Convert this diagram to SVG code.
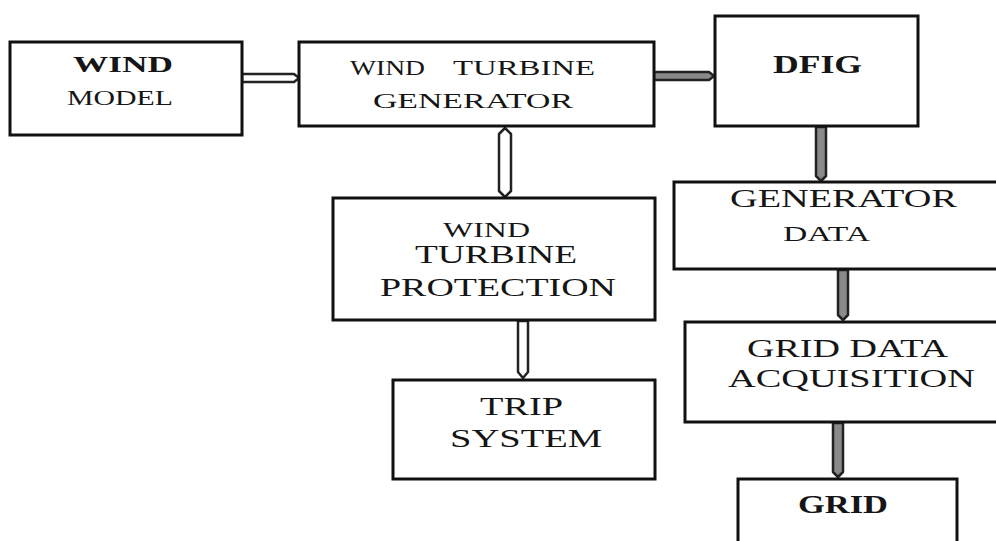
<svg xmlns="http://www.w3.org/2000/svg" width="996" height="541" viewBox="0 0 996 541">
<style>
.box{fill:#fff;stroke:#111;stroke-width:3}
.t{font-family:"Liberation Serif","Times New Roman",serif;fill:#151515;text-anchor:start}
.b{font-weight:bold}
.arr{stroke:#222;stroke-width:2.5;stroke-linejoin:round}
.hol{fill:#fff}
.sh{fill:#8a8a8a}
</style>
<rect width="996" height="541" fill="#fff"/>
<g id="connectors">
<polygon class="arr hol" points="242,74 294,74 299,78 294,82 242,82"/>
<polygon class="arr sh" points="654,72 709,72 714,76 709,80 654,80"/>
<polygon class="arr hol" points="505,128 511,134 511,191 505,197 499,191 499,134"/>
<polygon class="arr hol" points="518,321 528,321 528,372 523,378 518,372"/>
<polygon class="arr sh" points="816,127 826,127 826,176 821,181 816,176"/>
<polygon class="arr sh" points="838,270 848,270 848,315 843,320 838,315"/>
<polygon class="arr sh" points="833,423 843,423 843,472 838,477 833,472"/>
</g>
<g id="wind-model">
<rect class="box" x="10" y="42" width="232" height="93"/>
<text class="t b" x="73" y="72" font-size="23" textLength="100" lengthAdjust="spacingAndGlyphs">WIND</text>
<text class="t" x="67" y="105" font-size="20" textLength="106" lengthAdjust="spacingAndGlyphs">MODEL</text>
</g>
<g id="wind-turbine-generator">
<rect class="box" x="299" y="42" width="355" height="84"/>
<text class="t" x="350" y="75" font-size="21" textLength="75" lengthAdjust="spacingAndGlyphs">WIND</text>
<text class="t" x="453" y="75" font-size="21" textLength="142" lengthAdjust="spacingAndGlyphs">TURBINE</text>
<text class="t" x="373" y="108" font-size="21" textLength="200" lengthAdjust="spacingAndGlyphs">GENERATOR</text>
</g>
<g id="dfig">
<rect class="box" x="715" y="16" width="203" height="110"/>
<text class="t b" x="773" y="73" font-size="25" textLength="89" lengthAdjust="spacingAndGlyphs">DFIG</text>
</g>
<g id="wind-turbine-protection">
<rect class="box" x="333" y="198" width="322" height="122"/>
<text class="t" x="443" y="237" font-size="21" textLength="87" lengthAdjust="spacingAndGlyphs">WIND</text>
<text class="t" x="415" y="263" font-size="25" textLength="162" lengthAdjust="spacingAndGlyphs">TURBINE</text>
<text class="t" x="380" y="296" font-size="25" textLength="236" lengthAdjust="spacingAndGlyphs">PROTECTION</text>
</g>
<g id="trip-system">
<rect class="box" x="393" y="380" width="262" height="99"/>
<text class="t" x="480" y="415" font-size="25" textLength="83" lengthAdjust="spacingAndGlyphs">TRIP</text>
<text class="t" x="450" y="447" font-size="25" textLength="152" lengthAdjust="spacingAndGlyphs">SYSTEM</text>
</g>
<g id="generator-data">
<rect class="box" x="674" y="182" width="340" height="87"/>
<text class="t" x="730" y="207" font-size="25" textLength="227" lengthAdjust="spacingAndGlyphs">GENERATOR</text>
<text class="t" x="783" y="241" font-size="21" textLength="87" lengthAdjust="spacingAndGlyphs">DATA</text>
</g>
<g id="grid-data-acquisition">
<rect class="box" x="685" y="322" width="330" height="100"/>
<text class="t" x="747" y="357" font-size="25" textLength="201" lengthAdjust="spacingAndGlyphs">GRID DATA</text>
<text class="t" x="728" y="387" font-size="25" textLength="247" lengthAdjust="spacingAndGlyphs">ACQUISITION</text>
</g>
<g id="grid">
<rect class="box" x="738" y="479" width="219" height="80"/>
<text class="t b" x="798" y="513" font-size="25" textLength="90" lengthAdjust="spacingAndGlyphs">GRID</text>
</g>
</svg>
